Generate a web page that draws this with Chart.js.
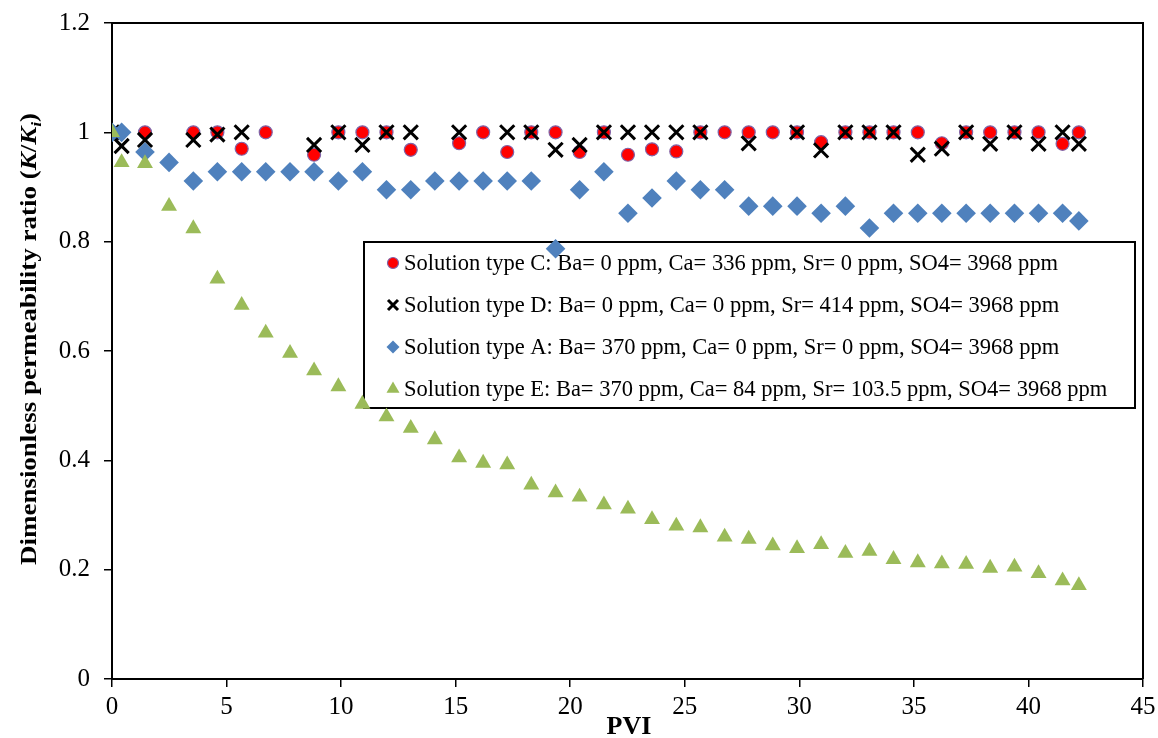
<!DOCTYPE html>
<html>
<head>
<meta charset="utf-8">
<script src="https://cdn.jsdelivr.net/npm/chart.js@4/dist/chart.umd.min.js"></script>
<style>
  html, body { margin: 0; padding: 0; background: #fff; }
  #wrap { width: 1158px; height: 738px; }
</style>
</head>
<body>
<div id="wrap"><canvas id="c" width="1158" height="738"></canvas></div>
<script>
// Pore volumes injected
const PVI = [0, 0.42, 1.44, 2.49, 3.55, 4.6, 5.66, 6.71, 7.77, 8.82,
  9.88, 10.93, 11.98, 13.04, 14.09, 15.15, 16.2, 17.25, 18.3, 19.36,
  20.41, 21.47, 22.52, 23.57, 24.63, 25.68, 26.74, 27.79, 28.84, 29.9,
  30.95, 32.01, 33.06, 34.11, 35.17, 36.22, 37.28, 38.33, 39.39, 40.44,
  41.49, 42.2];

// K/Ki for each brine (null = no reading at that PVI)
const typeC = [1.0, null, 1.0, null, 1.0, 1.0, 0.97, 1.0, null, 0.959,
  1.0, 1.0, 1.0, 0.968, null, 0.98, 1.0, 0.964, 1.0, 1.0,
  0.964, 1.0, 0.959, 0.969, 0.965, 1.0, 1.0, 1.0, 1.0, 1.0,
  0.982, 1.0, 1.0, 1.0, 1.0, 0.98, 1.0, 1.0, 1.0, 1.0,
  0.979, 1.0];
const typeD = [1.0, 0.975, 0.986, null, 0.986, 0.996, 1.0, null, null, 0.977,
  1.0, 0.977, 1.0, 1.0, null, 1.0, null, 1.0, 1.0, 0.968,
  0.977, 1.0, 1.0, 1.0, 1.0, 1.0, null, 0.98, null, 1.0,
  0.967, 1.0, 1.0, 1.0, 0.959, 0.97, 1.0, 0.979, 1.0, 0.979,
  1.0, 0.979];
const typeA = [1.0, 1.0, 0.964, 0.945, 0.911, 0.928, 0.928, 0.928, 0.928, 0.928,
  0.911, 0.928, 0.895, 0.895, 0.911, 0.911, 0.911, 0.911, 0.911, 0.787,
  0.895, 0.928, 0.852, 0.88, 0.911, 0.895, 0.895, 0.865, 0.865, 0.865,
  0.852, 0.865, 0.825, 0.852, 0.852, 0.852, 0.852, 0.852, 0.852, 0.852,
  0.852, 0.838];
const typeE = [1.0, 0.945, 0.943, 0.865, 0.824, 0.732, 0.684, 0.633, 0.596, 0.564,
  0.535, 0.503, 0.48, 0.459, 0.438, 0.405, 0.395, 0.392, 0.355, 0.341,
  0.333, 0.319, 0.311, 0.292, 0.28, 0.277, 0.26, 0.256, 0.244, 0.239,
  0.246, 0.23, 0.234, 0.219, 0.213, 0.211, 0.21, 0.203, 0.205, 0.193,
  0.18, 0.171];

const seriesLabels = [
  'Solution type C: Ba= 0 ppm, Ca= 336 ppm, Sr= 0 ppm, SO4= 3968 ppm',
  'Solution type D: Ba= 0 ppm, Ca= 0 ppm, Sr= 414 ppm, SO4= 3968 ppm',
  'Solution type A: Ba= 370 ppm, Ca= 0 ppm, Sr= 0 ppm, SO4= 3968 ppm',
  'Solution type E: Ba= 370 ppm, Ca= 84 ppm, Sr= 103.5 ppm, SO4= 3968 ppm'
];
const xTicks = [0, 5, 10, 15, 20, 25, 30, 35, 40, 45];
const yTicks = [0, 0.2, 0.4, 0.6, 0.8, 1, 1.2];

const SERIF = "'Liberation Serif', 'Times New Roman', serif";

function pts(ys) {
  return PVI.map((x, i) => ({ x: x, y: ys[i] })).filter(p => p.y !== null);
}

const styles = [
  { pointStyle: 'circle', radius: 6.5, backgroundColor: '#FF0000', borderColor: '#7F64A8', borderWidth: 1.2, order: 4 },
  { pointStyle: 'crossRot', radius: 10, backgroundColor: '#000', borderColor: '#000', borderWidth: 3, order: 3 },
  { pointStyle: 'rectRot', radius: 9.8, backgroundColor: '#4F81BD', borderColor: '#4F81BD', borderWidth: 0, order: 2 },
  { pointStyle: 'triangle', radius: 9.2, backgroundColor: '#9BBB59', borderColor: '#9BBB59', borderWidth: 0, order: 1 }
];
const seriesData = [typeC, typeD, typeA, typeE];

const datasets = seriesData.map((ys, k) => ({
  label: seriesLabels[k],
  data: pts(ys),
  showLine: false,
  pointStyle: styles[k].pointStyle,
  pointRadius: styles[k].radius,
  pointHoverRadius: styles[k].radius,
  pointBackgroundColor: styles[k].backgroundColor,
  pointBorderColor: styles[k].borderColor,
  pointBorderWidth: styles[k].borderWidth,
  backgroundColor: styles[k].backgroundColor,
  borderColor: styles[k].borderColor,
  order: styles[k].order
}));

// Legend marker shapes
function marker(ctx, style, x, y) {
  ctx.save();
  ctx.beginPath();
  if (style === 'circle') {
    ctx.arc(x, y, 5.5, 0, Math.PI * 2);
    ctx.fillStyle = '#FF0000';
    ctx.fill();
    ctx.lineWidth = 1.2;
    ctx.strokeStyle = '#7F64A8';
    ctx.stroke();
  } else if (style === 'crossRot') {
    const d = 5;
    ctx.moveTo(x - d, y - d); ctx.lineTo(x + d, y + d);
    ctx.moveTo(x + d, y - d); ctx.lineTo(x - d, y + d);
    ctx.lineWidth = 3;
    ctx.strokeStyle = '#000';
    ctx.stroke();
  } else if (style === 'rectRot') {
    const d = 6.5;
    ctx.moveTo(x - d, y); ctx.lineTo(x, y - d); ctx.lineTo(x + d, y); ctx.lineTo(x, y + d);
    ctx.closePath();
    ctx.fillStyle = '#4F81BD';
    ctx.fill();
  } else {
    const r = 7.5;
    ctx.moveTo(x, y - r);
    ctx.lineTo(x + r * 0.866, y + r * 0.5);
    ctx.lineTo(x - r * 0.866, y + r * 0.5);
    ctx.closePath();
    ctx.fillStyle = '#9BBB59';
    ctx.fill();
  }
  ctx.restore();
}

const decorations = {
  id: 'decorations',
  // legend box sits under the data markers
  beforeDatasetsDraw(chart) {
    const ctx = chart.ctx;
    ctx.save();
    const bx = 364, by = 242, bw = 771, bh = 166;
    ctx.fillStyle = '#fff';
    ctx.fillRect(bx, by, bw, bh);
    ctx.lineWidth = 2;
    ctx.strokeStyle = '#000';
    ctx.strokeRect(bx, by, bw, bh);
    ctx.font = '22.5px ' + SERIF;
    ctx.textBaseline = 'middle';
    ctx.textAlign = 'left';
    const rows = [263, 305, 347, 389];
    seriesLabels.forEach((t, k) => {
      marker(ctx, styles[k].pointStyle, 393, rows[k]);
      ctx.fillStyle = '#000';
      ctx.fillText(t, 404, rows[k] + 1);
    });
    ctx.restore();
  },
  afterDraw(chart) {
    const ctx = chart.ctx;
    const a = chart.chartArea;
    ctx.save();
    // top and right frame
    ctx.strokeStyle = '#000';
    ctx.lineWidth = 2;
    ctx.beginPath();
    ctx.moveTo(a.left, a.top);
    ctx.lineTo(a.right, a.top);
    ctx.lineTo(a.right, a.bottom);
    ctx.stroke();

    // x axis title
    ctx.fillStyle = '#000';
    ctx.font = 'bold 26px ' + SERIF;
    ctx.textAlign = 'center';
    ctx.textBaseline = 'middle';
    ctx.fillText('PVI', 629, 727);

    // y axis title with italic K/Ki
    const segs = [
      { t: 'Dimensionless permeability ratio (', f: 'bold 23px ' + SERIF, dy: 0 },
      { t: 'K', f: 'italic bold 23px ' + SERIF, dy: 0 },
      { t: '/', f: 'bold 23px ' + SERIF, dy: 0 },
      { t: 'K', f: 'italic bold 23px ' + SERIF, dy: 0 },
      { t: 'i', f: 'italic bold 15px ' + SERIF, dy: 5 },
      { t: ')', f: 'bold 23px ' + SERIF, dy: 0 }
    ];
    let total = 0;
    segs.forEach(s => { ctx.font = s.f; s.w = ctx.measureText(s.t).width; total += s.w; });
    const span = 452;
    ctx.translate(36, 339);
    ctx.rotate(-Math.PI / 2);
    ctx.scale(span / total, 1);
    ctx.textAlign = 'left';
    ctx.textBaseline = 'alphabetic';
    let cx = -total / 2;
    segs.forEach(s => {
      ctx.font = s.f;
      ctx.fillText(s.t, cx, s.dy);
      cx += s.w;
    });
    ctx.restore();
  }
};

new Chart(document.getElementById('c'), {
  type: 'scatter',
  data: { datasets: datasets },
  options: {
    responsive: false,
    animation: false,
    events: [],
    layout: { padding: { left: 0, top: 23, right: 15, bottom: 0 } },
    plugins: { legend: { display: false }, tooltip: { enabled: false }, title: { display: false } },
    scales: {
      x: {
        type: 'linear',
        min: 0, max: 45,
        afterFit(s) { s.height = 59; s.paddingLeft = 0; s.paddingRight = 0; },
        afterBuildTicks(s) { s.ticks = xTicks.map(v => ({ value: v })); },
        ticks: { color: '#000', font: { family: SERIF, size: 25 }, padding: 5, maxRotation: 0 },
        grid: { drawOnChartArea: false, drawTicks: true, tickLength: 8, color: '#000', lineWidth: 1.5 },
        border: { display: true, color: '#000', width: 2 },
        title: { display: false }
      },
      y: {
        type: 'linear',
        min: 0, max: 1.2,
        afterFit(s) { s.width = 112; s.paddingTop = 0; s.paddingBottom = 0; },
        afterBuildTicks(s) { s.ticks = yTicks.map(v => ({ value: v })); },
        ticks: { color: '#000', font: { family: SERIF, size: 25 }, padding: 14, callback: v => String(+v.toFixed(1)) },
        grid: { drawOnChartArea: false, drawTicks: true, tickLength: 8, color: '#000', lineWidth: 1.5 },
        border: { display: true, color: '#000', width: 2 },
        title: { display: false }
      }
    }
  },
  plugins: [decorations]
});
</script>
</body>
</html>
